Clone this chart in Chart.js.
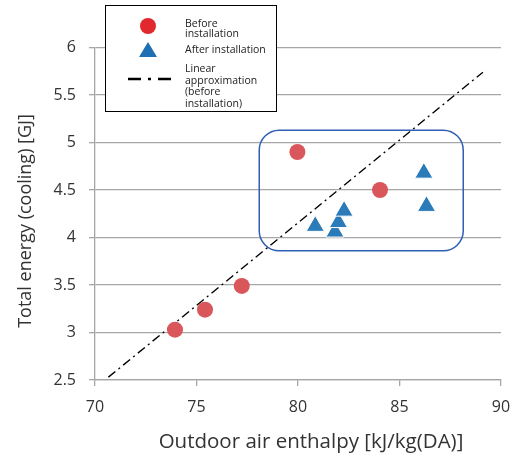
<!DOCTYPE html>
<html>
<head>
<meta charset="utf-8">
<script src="https://cdn.jsdelivr.net/npm/chart.js@4"></script>
<style>
    html, body { margin: 0; padding: 0; background: #fff; }
    #wrap { width: 517px; height: 457px; }
</style>
</head>
<body>
<div id="wrap"><canvas id="energyChart" width="517" height="457"></canvas></div>
<script>
// values
const beforeX = [73.94, 75.42, 77.23, 79.97, 84.04];
const beforeY = [3.03, 3.24, 3.49, 4.90, 4.50];
const afterX = [81.82, 81.99, 82.27, 80.85, 86.20, 86.33];
const afterY = [4.06, 4.16, 4.28, 4.12, 4.68, 4.33];
const fitX = [70.66, 89.11];
const fitY = [2.53, 5.74];
// highlighted region [xmin, xmax, ymin, ymax]
const boxRange = [78.09, 88.14, 3.86, 5.13];
const xTicks = [70, 75, 80, 85, 90];
const yTicks = [2.5, 3, 3.5, 4, 4.5, 5, 5.5, 6];
const xTitle = 'Outdoor air enthalpy [kJ/kg(DA)]';
const yTitle = 'Total energy (cooling) [GJ]';

const FONT = '"Open Sans", "DejaVu Sans", sans-serif';
const RED = '#d9565a';
const BLUE = '#2b7bb9';

function toPoints(xs, ys) {
    return xs.map((x, i) => ({ x: x, y: ys[i] }));
}

// pick a font size so the text spans roughly the given width
function fitFont(ctx, text, width, maxSize) {
    ctx.font = '20px ' + FONT;
    const size = Math.min(maxSize, 20 * width / ctx.measureText(text).width);
    ctx.font = size.toFixed(1) + 'px ' + FONT;
}

// rounded box around the after-installation points
const boxPlugin = {
    id: 'boxPlugin',
    beforeDatasetsDraw(chart) {
        const ctx = chart.ctx;
        const sx = chart.scales.x, sy = chart.scales.y;
        const x1 = sx.getPixelForValue(boxRange[0]);
        const x2 = sx.getPixelForValue(boxRange[1]);
        const y1 = sy.getPixelForValue(boxRange[3]);
        const y2 = sy.getPixelForValue(boxRange[2]);
        ctx.save();
        ctx.strokeStyle = '#2f5fb3';
        ctx.lineWidth = 1.5;
        ctx.beginPath();
        ctx.roundRect(x1, y1, x2 - x1, y2 - y1, 20);
        ctx.stroke();
        ctx.restore();
    }
};

// axis titles + boxed legend with multi-line labels
const legendPlugin = {
    id: 'legendPlugin',
    afterDraw(chart) {
        const ctx = chart.ctx;
        ctx.save();

        ctx.fillStyle = '#333';
        ctx.textAlign = 'center';
        ctx.textBaseline = 'middle';
        fitFont(ctx, xTitle, 305, 21);
        ctx.fillText(xTitle, 311, 442);
        ctx.translate(26, 221);
        ctx.rotate(-Math.PI / 2);
        fitFont(ctx, yTitle, 248, 18);
        ctx.fillText(yTitle, 0, 0);
        ctx.setTransform(1, 0, 0, 1, 0, 0);

        ctx.fillStyle = '#fff';
        ctx.fillRect(105, 5, 172, 107);
        ctx.strokeStyle = '#000';
        ctx.lineWidth = 1;
        ctx.strokeRect(105.5, 5.5, 171, 106);

        ctx.fillStyle = '#e0282e';
        ctx.beginPath();
        ctx.arc(148, 26, 8, 0, Math.PI * 2);
        ctx.fill();

        ctx.fillStyle = '#1f6fb4';
        ctx.beginPath();
        ctx.moveTo(148, 42);
        ctx.lineTo(157, 57);
        ctx.lineTo(139, 57);
        ctx.closePath();
        ctx.fill();

        ctx.strokeStyle = '#000';
        ctx.lineWidth = 2.5;
        ctx.setLineDash([13, 7, 3, 7]);
        ctx.beginPath();
        ctx.moveTo(128, 79);
        ctx.lineTo(175, 79);
        ctx.stroke();
        ctx.setLineDash([]);

        ctx.fillStyle = '#222';
        ctx.font = '10.5px ' + FONT;
        ctx.textAlign = 'left';
        const lines = [
            ['Before', 24], ['installation', 34.5], ['After installation', 50.5],
            ['Linear', 69.5], ['approximation', 81], ['(before', 92.5], ['installation)', 104]
        ];
        lines.forEach(l => ctx.fillText(l[0], 185, l[1]));
        ctx.restore();
    }
};

const ctx = document.getElementById('energyChart').getContext('2d');
new Chart(ctx, {
    type: 'scatter',
    data: {
        datasets: [
            {
                label: 'Linear approximation (before installation)',
                type: 'line',
                data: toPoints(fitX, fitY),
                borderColor: '#000',
                borderWidth: 1.4,
                borderDash: [9, 4, 2, 4],
                pointRadius: 0,
                fill: false,
                order: 3
            },
            {
                label: 'After installation',
                data: toPoints(afterX, afterY),
                pointStyle: 'triangle',
                pointRadius: 10.5,
                backgroundColor: BLUE,
                borderColor: '#fff',
                borderWidth: 1,
                order: 2
            },
            {
                label: 'Before installation',
                data: toPoints(beforeX, beforeY),
                pointStyle: 'circle',
                pointRadius: 8,
                backgroundColor: RED,
                borderWidth: 0,
                order: 1
            }
        ]
    },
    options: {
        responsive: false,
        animation: false,
        layout: { padding: { top: 47.5, right: 16, left: 0, bottom: 0 } },
        plugins: {
            legend: { display: false },
            tooltip: { enabled: false }
        },
        scales: {
            x: {
                type: 'linear',
                min: xTicks[0],
                max: xTicks[xTicks.length - 1],
                afterBuildTicks: axis => { axis.ticks = xTicks.map(v => ({ value: v })); },
                afterFit: axis => {
                    axis.height = 77;
                    axis.paddingLeft = 0;
                    axis.paddingRight = 0;
                },
                border: { color: '#a6a6a6', width: 1.3 },
                grid: { drawOnChartArea: false, color: '#a6a6a6', lineWidth: 1.3, tickLength: 6 },
                ticks: { color: '#333', font: { family: FONT, size: 16 }, padding: 12, callback: v => String(v) }
            },
            y: {
                type: 'linear',
                min: yTicks[0],
                max: yTicks[yTicks.length - 1],
                afterBuildTicks: axis => { axis.ticks = yTicks.map(v => ({ value: v })); },
                afterFit: axis => {
                    axis.width = 95;
                    axis.paddingTop = 0;
                    axis.paddingBottom = 0;
                },
                border: { color: '#a6a6a6', width: 1.3 },
                grid: { color: '#a6a6a6', lineWidth: 1.3, tickLength: 6 },
                ticks: { color: '#333', font: { family: FONT, size: 16 }, padding: 13, callback: v => String(v) }
            }
        }
    },
    plugins: [boxPlugin, legendPlugin]
});
</script>
</body>
</html>
